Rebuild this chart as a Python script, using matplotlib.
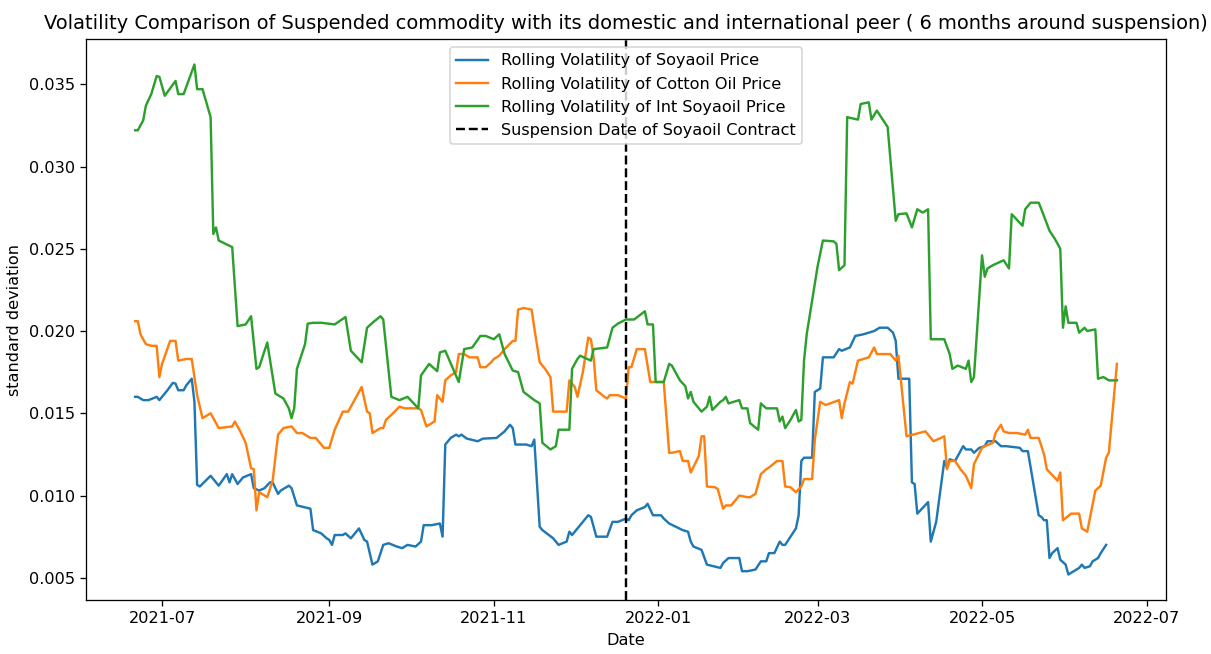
import pandas as pd
import matplotlib
matplotlib.use("Agg")
import matplotlib.pyplot as plt

# Rolling volatility (std dev)
soya_dates = [
    "2021-06-21", "2021-06-22", "2021-06-24", "2021-06-26", "2021-06-29", "2021-06-30",
    "2021-07-01", "2021-07-03", "2021-07-05", "2021-07-06", "2021-07-07", "2021-07-09",
    "2021-07-10", "2021-07-12", "2021-07-13", "2021-07-14", "2021-07-15", "2021-07-19",
    "2021-07-22", "2021-07-25", "2021-07-26", "2021-07-27", "2021-07-29", "2021-07-31",
    "2021-08-03", "2021-08-04", "2021-08-06", "2021-08-08", "2021-08-10", "2021-08-11",
    "2021-08-13", "2021-08-14", "2021-08-17", "2021-08-18", "2021-08-20", "2021-08-25",
    "2021-08-26", "2021-08-29", "2021-08-31", "2021-09-01", "2021-09-02", "2021-09-03",
    "2021-09-06", "2021-09-07", "2021-09-09", "2021-09-12", "2021-09-14", "2021-09-15",
    "2021-09-17", "2021-09-19", "2021-09-21", "2021-09-23", "2021-09-26", "2021-09-28",
    "2021-09-30", "2021-10-03", "2021-10-05", "2021-10-06", "2021-10-09", "2021-10-12",
    "2021-10-13", "2021-10-14", "2021-10-16", "2021-10-18", "2021-10-19", "2021-10-20",
    "2021-10-22", "2021-10-26", "2021-10-28", "2021-11-02", "2021-11-05", "2021-11-07",
    "2021-11-08", "2021-11-09", "2021-11-13", "2021-11-15", "2021-11-16", "2021-11-18",
    "2021-11-19", "2021-11-23", "2021-11-25", "2021-11-28", "2021-11-29", "2021-11-30",
    "2021-12-02", "2021-12-04", "2021-12-06", "2021-12-07", "2021-12-09", "2021-12-13",
    "2021-12-15", "2021-12-17", "2021-12-20", "2021-12-21", "2021-12-22", "2021-12-24",
    "2021-12-27", "2021-12-28", "2021-12-30", "2022-01-02", "2022-01-03", "2022-01-05",
    "2022-01-10", "2022-01-12", "2022-01-13", "2022-01-14", "2022-01-17", "2022-01-19",
    "2022-01-24", "2022-01-25", "2022-01-27", "2022-01-31", "2022-02-01", "2022-02-03",
    "2022-02-06", "2022-02-08", "2022-02-10", "2022-02-11", "2022-02-13", "2022-02-15",
    "2022-02-16", "2022-02-17", "2022-02-19", "2022-02-21", "2022-02-22", "2022-02-23",
    "2022-02-24", "2022-02-27", "2022-02-28", "2022-03-02", "2022-03-03", "2022-03-07",
    "2022-03-09", "2022-03-10", "2022-03-13", "2022-03-15", "2022-03-18", "2022-03-22",
    "2022-03-24", "2022-03-27", "2022-03-29", "2022-03-30", "2022-03-31", "2022-04-04",
    "2022-04-05", "2022-04-06", "2022-04-07", "2022-04-11", "2022-04-12", "2022-04-14",
    "2022-04-17", "2022-04-18", "2022-04-19", "2022-04-21", "2022-04-24", "2022-04-25",
    "2022-04-27", "2022-04-28", "2022-04-30", "2022-05-02", "2022-05-03", "2022-05-05",
    "2022-05-06", "2022-05-08", "2022-05-10", "2022-05-15", "2022-05-16", "2022-05-18",
    "2022-05-22", "2022-05-23", "2022-05-24", "2022-05-25", "2022-05-26", "2022-05-27",
    "2022-05-29", "2022-05-30", "2022-06-01", "2022-06-02", "2022-06-04", "2022-06-06",
    "2022-06-07", "2022-06-08", "2022-06-10", "2022-06-11", "2022-06-13", "2022-06-14",
    "2022-06-16",
]
soya_vol = [
    0.0160, 0.0160, 0.0158, 0.0158, 0.0160, 0.0158,
    0.0160, 0.0164, 0.01685, 0.0168, 0.0164, 0.0164,
    0.0167, 0.0171, 0.0157, 0.01065, 0.01055, 0.0112,
    0.0106, 0.0113, 0.0108, 0.0113, 0.0107, 0.0111,
    0.0113, 0.01045, 0.0103, 0.01045, 0.0108, 0.0108,
    0.0101, 0.0103, 0.0106, 0.01045, 0.0094, 0.0092,
    0.0079, 0.0077, 0.0074, 0.0073, 0.0070, 0.0076,
    0.0076, 0.0077, 0.0074, 0.0080, 0.0073, 0.0072,
    0.0058, 0.0060, 0.0070, 0.0071, 0.0069, 0.0068,
    0.0070, 0.0069, 0.0072, 0.0082, 0.0082, 0.0083,
    0.0075, 0.0131, 0.0135, 0.0137, 0.0136, 0.0137,
    0.01346, 0.0133, 0.01346, 0.0135, 0.0139, 0.0143,
    0.0141, 0.0131, 0.0131, 0.0130, 0.0134, 0.0081,
    0.0079, 0.0074, 0.0070, 0.0072, 0.0078, 0.0076,
    0.0080, 0.0084, 0.0088, 0.0087, 0.0075, 0.0075,
    0.0084, 0.0084, 0.0086, 0.0085, 0.0088, 0.0091,
    0.0093, 0.0095, 0.0088, 0.0088, 0.0086, 0.0083,
    0.0079, 0.0078, 0.0072, 0.0069, 0.0067, 0.0058,
    0.0056, 0.0059, 0.0062, 0.0062, 0.0054, 0.0054,
    0.0055, 0.0060, 0.0060, 0.0065, 0.0065, 0.0072,
    0.0070, 0.0070, 0.0075, 0.0080, 0.0088, 0.0121,
    0.0123, 0.0123, 0.0163, 0.0165, 0.0184, 0.0184,
    0.0189, 0.0188, 0.0190, 0.0197, 0.0198, 0.0200,
    0.0202, 0.0202, 0.0199, 0.0194, 0.0171, 0.0171,
    0.0108, 0.0107, 0.0089, 0.0096, 0.0072, 0.0084,
    0.0121, 0.0117, 0.0122, 0.0121, 0.0130, 0.0128,
    0.0128, 0.0126, 0.0129, 0.0130, 0.0133, 0.0133,
    0.0133, 0.0130, 0.0130, 0.0129, 0.0127, 0.0127,
    0.0088, 0.0087, 0.0085, 0.0085, 0.0062, 0.0065,
    0.0068, 0.0061, 0.0058, 0.0052, 0.0054, 0.0056,
    0.0058, 0.0056, 0.0057, 0.0060, 0.0062, 0.0065,
    0.0070,
]

cotton_dates = [
    "2021-06-21", "2021-06-22", "2021-06-23", "2021-06-25", "2021-06-27", "2021-06-29",
    "2021-06-30", "2021-07-01", "2021-07-04", "2021-07-06", "2021-07-07", "2021-07-10",
    "2021-07-12", "2021-07-14", "2021-07-16", "2021-07-19", "2021-07-22", "2021-07-27",
    "2021-07-28", "2021-07-30", "2021-08-01", "2021-08-03", "2021-08-04", "2021-08-05",
    "2021-08-06", "2021-08-09", "2021-08-11", "2021-08-13", "2021-08-15", "2021-08-18",
    "2021-08-20", "2021-08-22", "2021-08-25", "2021-08-27", "2021-08-30", "2021-09-01",
    "2021-09-03", "2021-09-06", "2021-09-08", "2021-09-13", "2021-09-15", "2021-09-16",
    "2021-09-17", "2021-09-20", "2021-09-21", "2021-09-22", "2021-09-24", "2021-09-27",
    "2021-09-29", "2021-10-04", "2021-10-05", "2021-10-07", "2021-10-10", "2021-10-11",
    "2021-10-13", "2021-10-14", "2021-10-16", "2021-10-18", "2021-10-19", "2021-10-21",
    "2021-10-23", "2021-10-26", "2021-10-27", "2021-10-29", "2021-10-31", "2021-11-01",
    "2021-11-03", "2021-11-05", "2021-11-08", "2021-11-09", "2021-11-10", "2021-11-12",
    "2021-11-15", "2021-11-16", "2021-11-18", "2021-11-20", "2021-11-22", "2021-11-23",
    "2021-11-25", "2021-11-28", "2021-11-29", "2021-12-01", "2021-12-02", "2021-12-04",
    "2021-12-06", "2021-12-07", "2021-12-08", "2021-12-09", "2021-12-12", "2021-12-13",
    "2021-12-14", "2021-12-17", "2021-12-20", "2021-12-21", "2021-12-22", "2021-12-24",
    "2021-12-27", "2021-12-29", "2022-01-03", "2022-01-05", "2022-01-06", "2022-01-09",
    "2022-01-10", "2022-01-12", "2022-01-13", "2022-01-16", "2022-01-17", "2022-01-18",
    "2022-01-19", "2022-01-22", "2022-01-23", "2022-01-25", "2022-01-26", "2022-01-28",
    "2022-01-31", "2022-02-03", "2022-02-04", "2022-02-06", "2022-02-08", "2022-02-10",
    "2022-02-11", "2022-02-14", "2022-02-16", "2022-02-17", "2022-02-19", "2022-02-21",
    "2022-02-23", "2022-02-24", "2022-02-27", "2022-02-28", "2022-03-02", "2022-03-04",
    "2022-03-09", "2022-03-10", "2022-03-11", "2022-03-13", "2022-03-14", "2022-03-16",
    "2022-03-20", "2022-03-22", "2022-03-23", "2022-03-28", "2022-03-30", "2022-03-31",
    "2022-04-03", "2022-04-10", "2022-04-13", "2022-04-17", "2022-04-18", "2022-04-19",
    "2022-04-21", "2022-04-23", "2022-04-25", "2022-04-27", "2022-04-28", "2022-05-01",
    "2022-05-02", "2022-05-05", "2022-05-06", "2022-05-08", "2022-05-09", "2022-05-11",
    "2022-05-14", "2022-05-17", "2022-05-18", "2022-05-19", "2022-05-22", "2022-05-24",
    "2022-05-25", "2022-05-29", "2022-05-30", "2022-05-31", "2022-06-03", "2022-06-06",
    "2022-06-07", "2022-06-09", "2022-06-12", "2022-06-14", "2022-06-16", "2022-06-17",
    "2022-06-20",
]
cotton_vol = [
    0.0206, 0.0206, 0.0198, 0.0192, 0.0191, 0.0191,
    0.0172, 0.0180, 0.0194, 0.0194, 0.0182, 0.0183,
    0.0183, 0.0161, 0.0147, 0.0150, 0.0141, 0.0142,
    0.0145, 0.0139, 0.0132, 0.01166, 0.0116, 0.0091,
    0.0102, 0.0099, 0.0109, 0.0137, 0.0141, 0.0142,
    0.0138, 0.0138, 0.0135, 0.0135, 0.0129, 0.0129,
    0.0140, 0.0151, 0.0151, 0.0166, 0.0151, 0.0150,
    0.0138, 0.0141, 0.0141, 0.0146, 0.0149, 0.0154,
    0.0153, 0.0153, 0.0152, 0.0142, 0.0145, 0.0161,
    0.0157, 0.0170, 0.0173, 0.0175, 0.0186, 0.0186,
    0.0184, 0.0184, 0.0178, 0.0178, 0.0181, 0.0183,
    0.0185, 0.0189, 0.0194, 0.0194, 0.0213, 0.0214,
    0.0213, 0.0202, 0.0181, 0.0177, 0.0172, 0.0151,
    0.0151, 0.0151, 0.0170, 0.0166, 0.0160, 0.0175,
    0.0196, 0.0195, 0.0184, 0.0164, 0.0160, 0.0159,
    0.0161, 0.0161, 0.0159, 0.0178, 0.0178, 0.0189,
    0.0189, 0.0169, 0.0169, 0.0126, 0.0126, 0.0127,
    0.0121, 0.0121, 0.0114, 0.0124, 0.0136, 0.0136,
    0.01055, 0.0105, 0.0104, 0.0092, 0.0094, 0.0094,
    0.0100, 0.0099, 0.0099, 0.0101, 0.0113, 0.0116,
    0.0117, 0.0121, 0.0121, 0.01055, 0.0105, 0.0102,
    0.01055, 0.0110, 0.0110, 0.0134, 0.0157, 0.0155,
    0.0158, 0.0147, 0.0156, 0.0169, 0.0168, 0.0182,
    0.0184, 0.0190, 0.0186, 0.0186, 0.0182, 0.0185,
    0.0136, 0.0139, 0.0133, 0.0136, 0.0116, 0.0121,
    0.0121, 0.0116, 0.0112, 0.01045, 0.0119, 0.0129,
    0.0130, 0.0132, 0.0138, 0.0143, 0.0139, 0.0138,
    0.0138, 0.0137, 0.0140, 0.0135, 0.0135, 0.0125,
    0.0116, 0.0109, 0.0114, 0.0085, 0.0089, 0.0089,
    0.0080, 0.0078, 0.0103, 0.0106, 0.0123, 0.0126,
    0.0180,
]

int_soya_dates = [
    "2021-06-21", "2021-06-22", "2021-06-23", "2021-06-24", "2021-06-25", "2021-06-27",
    "2021-06-29", "2021-06-30", "2021-07-02", "2021-07-06", "2021-07-07", "2021-07-09",
    "2021-07-13", "2021-07-14", "2021-07-16", "2021-07-19", "2021-07-20", "2021-07-21",
    "2021-07-22", "2021-07-27", "2021-07-29", "2021-08-01", "2021-08-03", "2021-08-05",
    "2021-08-06", "2021-08-09", "2021-08-12", "2021-08-15", "2021-08-17", "2021-08-18",
    "2021-08-19", "2021-08-20", "2021-08-23", "2021-08-24", "2021-08-26", "2021-08-29",
    "2021-09-03", "2021-09-07", "2021-09-09", "2021-09-13", "2021-09-15", "2021-09-17",
    "2021-09-20", "2021-09-21", "2021-09-24", "2021-09-27", "2021-09-30", "2021-10-04",
    "2021-10-05", "2021-10-08", "2021-10-11", "2021-10-12", "2021-10-14", "2021-10-19",
    "2021-10-21", "2021-10-24", "2021-10-27", "2021-10-29", "2021-11-01", "2021-11-03",
    "2021-11-05", "2021-11-08", "2021-11-10", "2021-11-12", "2021-11-16", "2021-11-18",
    "2021-11-19", "2021-11-22", "2021-11-24", "2021-11-25", "2021-11-29", "2021-11-30",
    "2021-12-02", "2021-12-03", "2021-12-07", "2021-12-08", "2021-12-13", "2021-12-15",
    "2021-12-17", "2021-12-20", "2021-12-23", "2021-12-27", "2021-12-28", "2021-12-30",
    "2021-12-31", "2022-01-03", "2022-01-05", "2022-01-06", "2022-01-09", "2022-01-11",
    "2022-01-12", "2022-01-13", "2022-01-14", "2022-01-17", "2022-01-19", "2022-01-20",
    "2022-01-21", "2022-01-24", "2022-01-25", "2022-01-26", "2022-01-27", "2022-01-31",
    "2022-02-01", "2022-02-03", "2022-02-04", "2022-02-07", "2022-02-08", "2022-02-10",
    "2022-02-14", "2022-02-15", "2022-02-16", "2022-02-17", "2022-02-19", "2022-02-21",
    "2022-02-22", "2022-02-23", "2022-02-24", "2022-02-25", "2022-03-01", "2022-03-03",
    "2022-03-07", "2022-03-08", "2022-03-09", "2022-03-11", "2022-03-12", "2022-03-16",
    "2022-03-17", "2022-03-20", "2022-03-21", "2022-03-23", "2022-03-27", "2022-03-30",
    "2022-03-31", "2022-04-03", "2022-04-05", "2022-04-07", "2022-04-09", "2022-04-11",
    "2022-04-12", "2022-04-17", "2022-04-19", "2022-04-20", "2022-04-22", "2022-04-25",
    "2022-04-26", "2022-04-27", "2022-04-28", "2022-05-01", "2022-05-02", "2022-05-03",
    "2022-05-05", "2022-05-09", "2022-05-11", "2022-05-12", "2022-05-16", "2022-05-17",
    "2022-05-19", "2022-05-22", "2022-05-23", "2022-05-26", "2022-05-28", "2022-05-30",
    "2022-05-31", "2022-06-01", "2022-06-02", "2022-06-05", "2022-06-06", "2022-06-08",
    "2022-06-09", "2022-06-12", "2022-06-13", "2022-06-15", "2022-06-17", "2022-06-20",
]
int_soya_vol = [
    0.0322, 0.0322, 0.0325, 0.0328, 0.0337, 0.0344,
    0.0355, 0.03545, 0.0343, 0.0352, 0.0344, 0.0344,
    0.0362, 0.0347, 0.0347, 0.0330, 0.0259, 0.0263,
    0.0255, 0.0251, 0.0203, 0.0204, 0.0209, 0.0177,
    0.0178, 0.0193, 0.0162, 0.0159, 0.0153, 0.0147,
    0.0153, 0.0177, 0.0192, 0.02045, 0.0205, 0.0205,
    0.0204, 0.02085, 0.0188, 0.0181, 0.0202, 0.0205,
    0.0209, 0.0207, 0.0160, 0.0158, 0.0160, 0.0153,
    0.0173, 0.0180, 0.01756, 0.0187, 0.0188, 0.0169,
    0.0189, 0.0190, 0.0197, 0.0197, 0.0195, 0.0198,
    0.0186, 0.0176, 0.0175, 0.0163, 0.0158, 0.0156,
    0.0132, 0.0128, 0.0130, 0.0140, 0.0140, 0.0177,
    0.0183, 0.0185, 0.0182, 0.0189, 0.0190, 0.0202,
    0.02045, 0.0207, 0.0207, 0.0212, 0.0204, 0.0204,
    0.0169, 0.0169, 0.0180, 0.0179, 0.0170, 0.01665,
    0.0159, 0.0163, 0.0157, 0.0151, 0.0154, 0.0160,
    0.0152, 0.0157, 0.0158, 0.0160, 0.0156, 0.0158,
    0.0153, 0.0153, 0.0144, 0.0140, 0.0156, 0.0153,
    0.0153, 0.0145, 0.0148, 0.0141, 0.0146, 0.0152,
    0.0145, 0.0146, 0.0182, 0.0198, 0.0239, 0.0255,
    0.02545, 0.0253, 0.0237, 0.0240, 0.0330, 0.03285,
    0.0338, 0.0339, 0.03285, 0.0334, 0.0324, 0.0267,
    0.0271, 0.02715, 0.0263, 0.0274, 0.0272, 0.0274,
    0.0195, 0.0195, 0.0186, 0.0177, 0.0179, 0.0177,
    0.0182, 0.0169, 0.0172, 0.0246, 0.0233, 0.0238,
    0.0240, 0.0243, 0.0238, 0.0271, 0.0264, 0.0274,
    0.0278, 0.0278, 0.0274, 0.0261, 0.0256, 0.0250,
    0.0202, 0.0215, 0.0205, 0.0205, 0.0199, 0.0202,
    0.0200, 0.0201, 0.0171, 0.0172, 0.0170, 0.0170,
]

suspension_date = "2021-12-20"

soya = pd.Series(soya_vol, index=pd.to_datetime(soya_dates))
cotton = pd.Series(cotton_vol, index=pd.to_datetime(cotton_dates))
int_soya = pd.Series(int_soya_vol, index=pd.to_datetime(int_soya_dates))

# higher dpi on a smaller canvas -> text and lines a bit bigger, same pixel size
fig, ax = plt.subplots(figsize=(1211 / 116, 654 / 116), dpi=116)
fig.subplots_adjust(left=86 / 1211, right=1166 / 1211, bottom=1 - 600 / 654, top=1 - 39 / 654)

ax.plot(soya.index, soya.values, label="Rolling Volatility of Soyaoil Price")
ax.plot(cotton.index, cotton.values, label="Rolling Volatility of Cotton Oil Price")
ax.plot(int_soya.index, int_soya.values, label="Rolling Volatility of Int Soyaoil Price")
ax.axvline(pd.to_datetime(suspension_date), color="black", linestyle="--",
           label="Suspension Date of Soyaoil Contract")

ax.set_title("Volatility Comparison of Suspended commodity with its domestic and "
             "international peer ( 6 months around suspension)")
ax.set_xlabel("Date")
ax.set_ylabel("standard deviation")
ax.legend(loc="upper center")

fig.savefig("out.png", dpi=116)
